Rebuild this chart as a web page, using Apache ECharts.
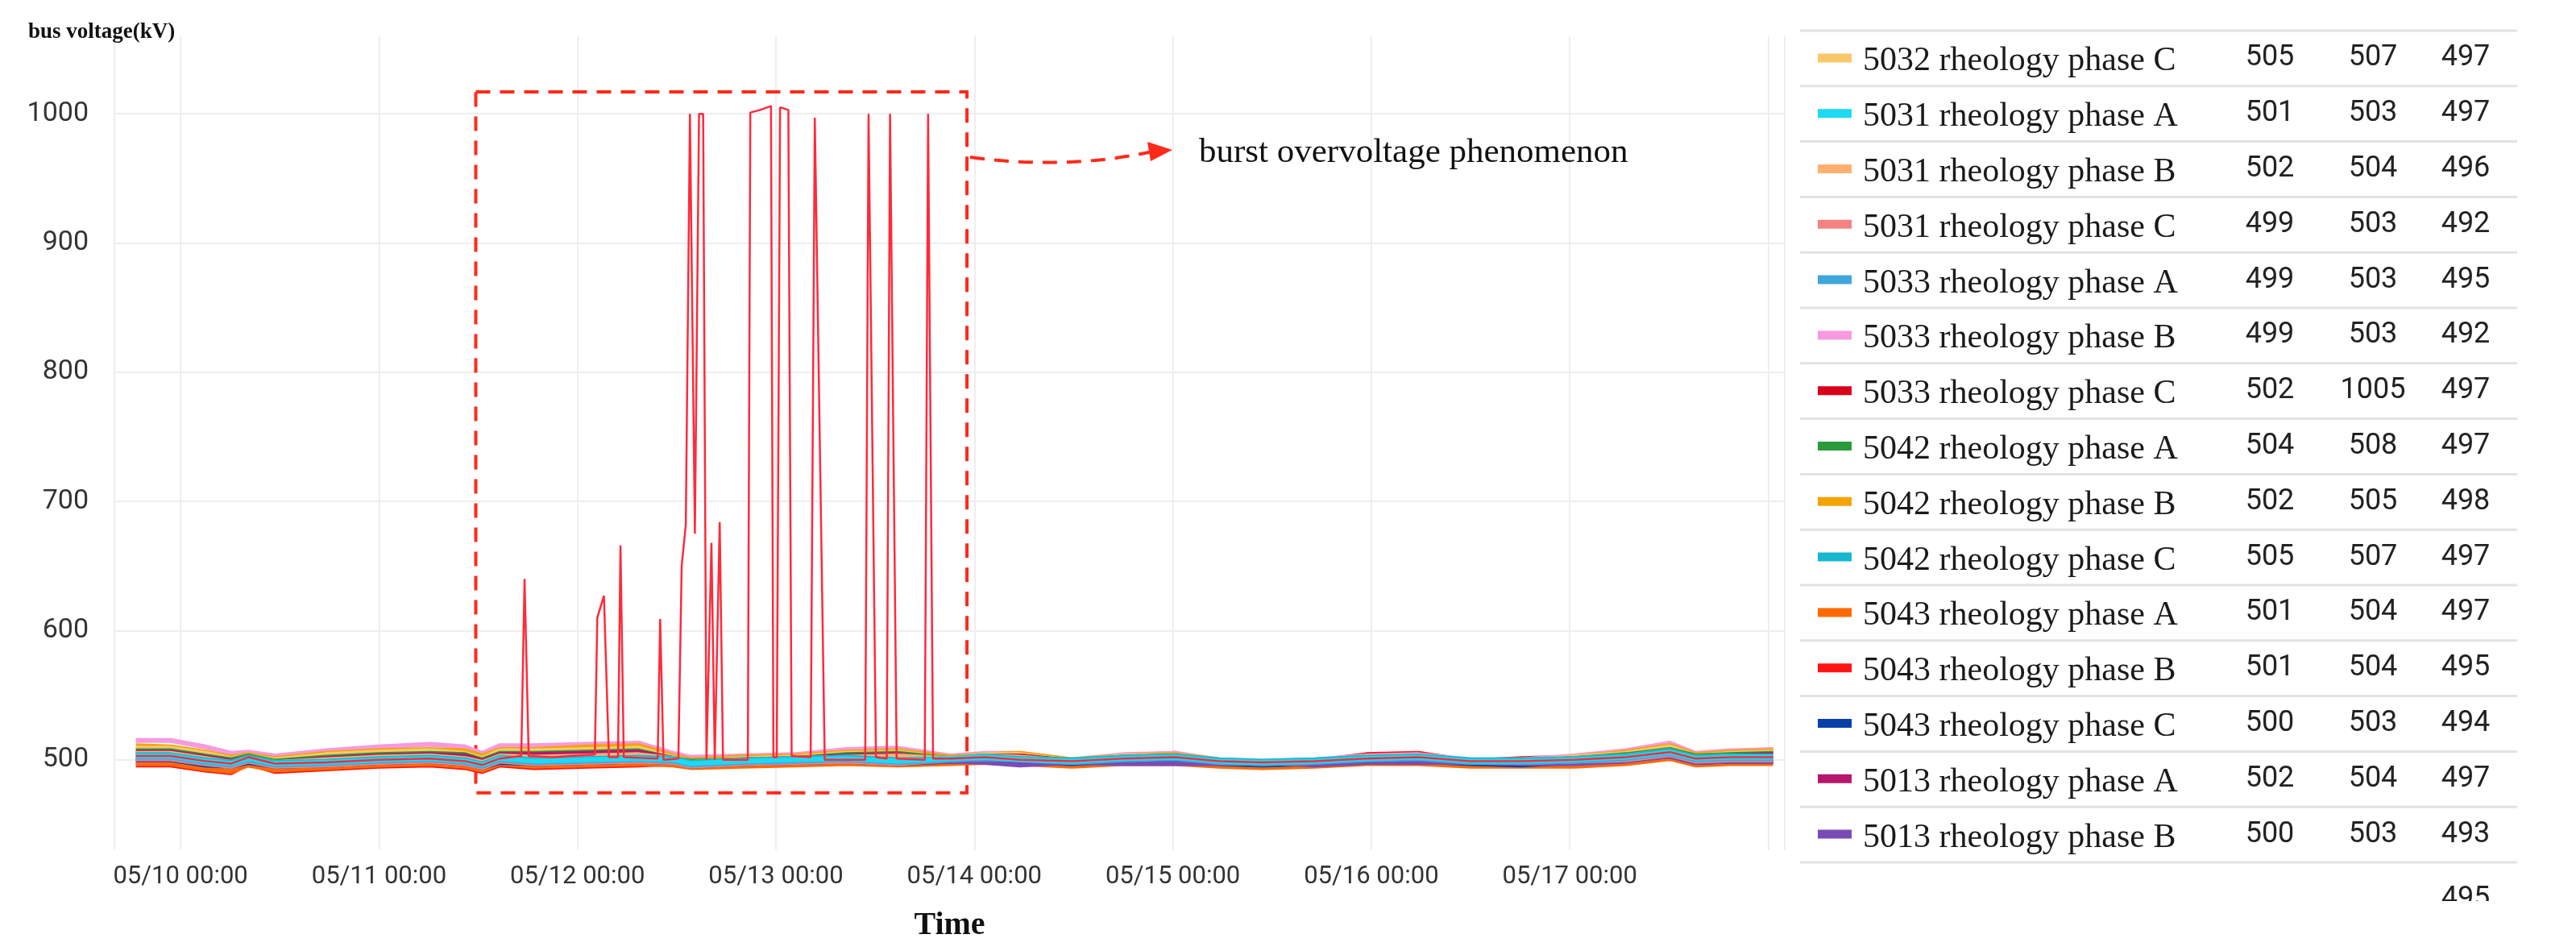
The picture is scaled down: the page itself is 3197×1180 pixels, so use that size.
<!DOCTYPE html>
<html><head><meta charset="utf-8">
<script src="https://cdn.jsdelivr.net/npm/echarts@6/dist/echarts.min.js"></script>
<style>html,body{margin:0;padding:0;background:#fff}#c{width:3197px;height:1180px}</style>
</head><body><div id="c"></div>
<script>
// hours after 05/10 00:00
const hours = [-5.4,-1.2,3.0,6.1,8.2,11.4,17.6,23.9,30.2,34.4,36.5,38.6,42.8,49.1,55.4,59.6,61.7,67.9,74.2,80.5,86.8,93.1,97.3,101.5,107.8,114.0,120.3,125.6,130.8,137.1,143.4,149.7,156.0,162.2,168.5,174.8,180.1,183.2,187.4,192.6];

const seriesNames = ['5032 rheology phase C','5031 rheology phase A','5031 rheology phase B','5031 rheology phase C','5033 rheology phase A','5033 rheology phase B','5033 rheology phase C','5042 rheology phase A','5042 rheology phase B','5042 rheology phase C','5043 rheology phase A','5043 rheology phase B','5043 rheology phase C','5013 rheology phase A','5013 rheology phase B'];
const seriesColors = ['#f9c86b','#1fd8f2','#ffb070','#f58282','#3fa6dc','#f79ae0','#d9001b','#2a9a3a','#f5a300','#17b8cf','#ff6a00','#ff1414','#0a3fa8','#b5176e','#7a4bb5'];
const statAvg = [505,501,502,499,499,499,502,504,502,505,501,501,500,502,500];
const statMax = [507,503,504,503,503,503,1005,508,505,507,504,504,503,504,503];
const statMin = [497,497,496,492,495,492,497,497,498,497,497,495,494,497,493];

const v5032C = [509,509,505,501,503,500,504,506,507,505,501,507,507,508,509,502,499,501,502,505,506,501,504,504,499,503,503,499,498,499,502,503,499,499,502,505,510,503,505,506];
const v5031A = [503,503,499,497,501,497,498,500,501,499,496,501,499,500,501,500,497,499,500,501,499,501,502,500,499,501,502,499,498,499,501,502,499,499,500,502,506,501,502,502];
const v5031B = [505,505,501,498,502,498,500,502,503,501,498,503,502,503,504,501,498,500,501,502,503,501,503,502,499,502,502,499,498,499,501,502,499,499,501,503,507,502,503,503];
const v5031C = [501,501,497,495,499,495,496,498,499,497,494,499,497,498,499,498,495,497,498,499,497,500,501,501,498,501,502,498,497,498,501,502,498,498,499,500,504,499,500,500];
const v5033A = [502,502,498,496,500,496,497,499,500,498,495,500,498,499,500,499,496,498,499,500,498,500,501,500,498,500,501,498,497,498,500,501,498,498,499,501,505,500,501,501];
const v5033B = [515,515,510,505,506,503,507,510,512,510,505,511,511,512,513,505,502,503,504,508,509,503,505,505,500,504,505,500,499,500,503,504,500,500,503,507,513,505,507,508];
const v5042A = [507,507,503,500,503,499,502,504,505,504,500,505,505,506,507,501,499,500,501,504,505,501,503,503,499,502,503,499,498,499,501,502,499,499,501,504,508,503,504,505];
const v5042B = [511,510,506,502,504,501,505,507,508,507,503,508,508,510,511,503,500,502,503,506,507,502,504,505,500,503,504,500,498,499,502,503,499,499,502,506,511,504,506,507];
const v5042C = [504,504,500,498,502,498,499,501,502,500,497,502,500,501,502,501,498,500,501,502,500,501,503,501,500,502,503,500,499,500,502,503,500,500,501,503,507,502,503,503];
const v5043A = [497,497,493,491,496,492,494,496,497,495,492,497,495,496,497,496,494,495,496,497,496,497,498,497,495,497,497,495,494,495,497,497,495,495,495,497,501,496,497,497];
const v5043B = [496,496,492,490,497,491,493,495,496,494,491,496,494,495,496,497,495,496,497,498,497,499,503,501,497,503,505,498,496,499,504,505,499,501,502,505,509,501,503,503];
const v5043C = [500,500,496,495,498,495,496,498,499,497,494,498,497,498,499,498,495,497,498,499,497,499,499,498,497,499,499,497,496,497,499,499,497,496,498,500,503,498,499,499];
const v5013A = [506,506,502,499,502,498,501,503,504,503,499,504,504,505,506,501,498,500,501,503,504,500,503,503,499,502,502,499,498,499,501,502,499,499,501,503,507,502,503,504];
const v5013B = [500,500,497,495,499,495,496,498,499,497,495,499,497,498,499,498,496,497,498,499,498,499,498,496,498,497,497,497,498,496,498,498,498,497,497,499,503,498,499,499];

// 5033 phase C: [hour, kV] with the burst overvoltage spikes
const v5033C = [[-5.4,503],[-1.2,503],[3.0,499],[6.1,497],[8.2,502],[11.4,497],[17.6,498],[23.9,500],[30.2,501],[34.4,499],[36.5,496],[38.6,501],
 [41.2,503],[41.6,640],[42.1,503],[44.9,502],[50.1,504],[50.4,610],[51.2,627],[51.8,502],[52.9,502],[53.2,666],[53.6,502],
 [57.7,501],[58.0,609],[58.4,500],[60.2,501],[60.6,650],[61.1,682],[61.6,1000],[62.2,675],[62.7,1000],[63.2,1000],[63.6,500],
 [64.2,668],[64.6,500],[65.2,684],[65.6,500],[68.6,500],[68.9,1001],[70.1,1003],[71.4,1006],[71.7,502],[72.1,502],[72.5,1005],
 [73.5,1003],[73.9,503],[76.2,502],[76.7,997],[77.9,500],[80.5,500],[82.8,500],[83.2,1000],[84.1,502],[85.4,501],[85.8,1000],
 [86.6,501],[90.0,500],[90.4,1000],[91.0,501],[93.1,501],[97.3,502],[101.5,500],[107.8,499],[114.0,501],[120.3,502],[125.6,499],[130.8,498],
 [137.1,499],[143.4,501],[149.7,502],[156.0,499],[162.2,499],[168.5,500],[174.8,502],[180.1,506],[183.2,501],[187.4,502],[192.6,502]];

const yTicks = [500,600,700,800,900,1000];
const partialRowMin = '495';

const T0 = new Date(2024,4,10,0,0,0).getTime();
const H = 3600000;
const regular = [v5032C,v5031A,v5031B,v5031C,v5033A,v5033B,null,v5042A,v5042B,v5042C,v5043A,v5043B,v5043C,v5013A,v5013B];
const drawOrder = [11,10,5,8,0,7,13,2,12,14,3,4,9,1,6];

const chart = echarts.init(document.getElementById('c'));
const series = drawOrder.map(i => {
  const data = regular[i] ? regular[i].map((v,k)=>[T0+hours[k]*H, v]) : v5033C.map(p=>[T0+p[0]*H,p[1]]);
  const s = {name: seriesNames[i], type:'line', data, showSymbol:false, smooth:false,
    lineStyle:{width: i===6?2.5:6, color: seriesColors[i]}, itemStyle:{color:seriesColors[i]}, z: i===6?5:2};
  if (i===6) {
    s.lineStyle.color = '#ff2a3a';
    s.markArea = {silent:true, itemStyle:{color:'rgba(0,0,0,0)', borderColor:'#ff2a1a', borderWidth:4, borderType:[18,12]},
      data:[[{xAxis:T0+35.7*H, yAxis:1017},{xAxis:T0+95.1*H, yAxis:474.5}]]};
  }
  return s;
});

chart.setOption({
  animation:false,
  title:{text:'bus voltage(kV)', left:30, top:22, textStyle:{fontFamily:'Liberation Serif', fontWeight:'bold', fontSize:27, color:'#111'}},
  grid:{left:142, right:982, top:45, bottom:125, containLabel:false},
  xAxis:{type:'time', min:T0-8*H, max:T0+194*H, interval:24*H,
    name:'Time', nameLocation:'middle', nameGap:74,
    nameTextStyle:{fontFamily:'Liberation Serif', fontWeight:'bold', fontSize:40, color:'#111'},
    axisLine:{show:false}, axisTick:{show:false},
    axisLabel:{fontFamily:'Roboto', fontSize:31, color:'#333', margin:18,
      formatter: v => { const d = new Date(v); if (d.getDate()===18) return ''; return echarts.time.format(v,'{MM}/{dd} {HH}:{mm}',false);} },
    splitLine:{show:true, lineStyle:{color:'#eeeeee', width:2}}},
  yAxis:{type:'value', min:430, max:1060,
    axisLine:{show:false}, axisTick:{show:false, customValues:yTicks},
    axisLabel:{fontFamily:'Roboto', fontSize:34, color:'#333', margin:32, customValues:yTicks, formatter: v => String(v)},
    splitLine:{show:true, lineStyle:{color:'#eeeeee', width:2}}},
  series
});

const g = [];
g.push({type:'bezierCurve', shape:{x1:1204,y1:195,x2:1440,y2:186,cpx1:1300,cpy1:208,cpx2:1380,cpy2:200},
  style:{stroke:'#ff2a1a', lineWidth:4, lineDash:[18,12], fill:null}});
g.push({type:'polygon', shape:{points:[[1424,176],[1455,186],[1428,200]]}, style:{fill:'#ff2a1a'}});
g.push({type:'text', x:1488, y:190, style:{text:'burst overvoltage phenomenon', fontFamily:'Liberation Serif', fontSize:43, fill:'#111', textVerticalAlign:'middle'}});
const rowTop = 38, rowH = 68.8;
for (let r=0;r<=15;r++) g.push({type:'rect', shape:{x:2234,y:rowTop+r*rowH-1.5,width:890,height:3}, style:{fill:'#e2e2e2'}});
seriesNames.forEach((n,i)=>{
  const cy = rowTop + i*rowH + rowH/2;
  g.push({type:'rect', shape:{x:2256,y:cy-6,width:42,height:11}, style:{fill:seriesColors[i]}});
  g.push({type:'text', x:2312, y:cy+4, style:{text:n, fontFamily:'Liberation Serif', fontSize:42, fill:'#1a1a1a', textVerticalAlign:'middle'}});
  [statAvg[i],statMax[i],statMin[i]].forEach((v,j)=>{
    g.push({type:'text', x:[2817,2945,3060][j], y:cy, style:{text:String(v), fontFamily:'Roboto', fontSize:36, fill:'#222', textAlign:'center', textVerticalAlign:'middle'}});
  });
});
g.push({type:'text', x:3060, y:rowTop+15*rowH+46, style:{text:partialRowMin, fontFamily:'Roboto', fontSize:36, fill:'#222', textAlign:'center', textVerticalAlign:'middle'}});
g.push({type:'rect', shape:{x:3010,y:rowTop+15*rowH+48,width:100,height:60}, style:{fill:'#fff'}, z:200});
chart.setOption({graphic:g});
</script></body></html>
